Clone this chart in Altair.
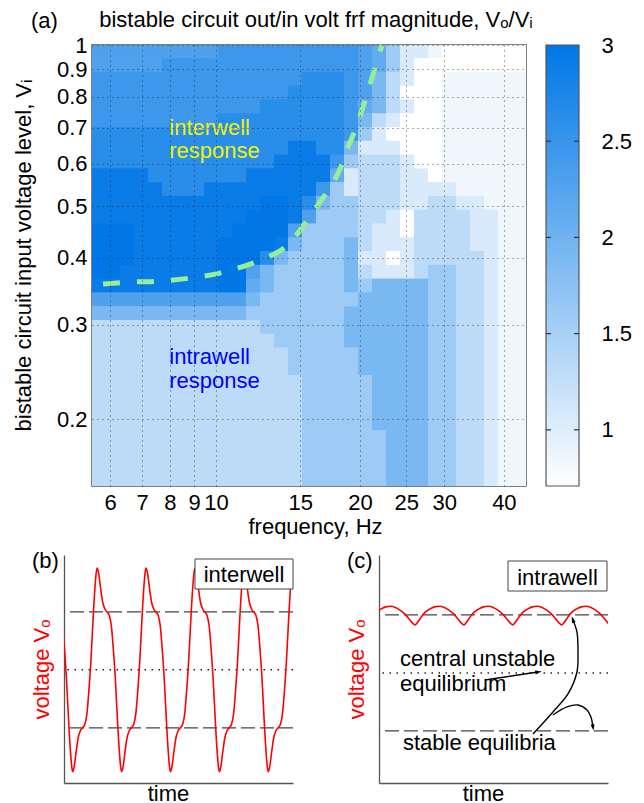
import altair as alt
import numpy as np
import pandas as pd

FONT = "Liberation Sans"
FS = 22

# ---------------- panel (a): frf magnitude map ----------------
FREQ_DOMAIN = [5.5, 44.5]
VOLT_DOMAIN = [0.15, 1.0]
FREQ_TICKS = [6, 7, 8, 9, 10, 15, 20, 25, 30, 40]
VOLT_TICKS = [0.2, 0.3, 0.4, 0.5, 0.6, 0.7, 0.8, 0.9, 1.0]
CBAR_TICKS = [1, 1.5, 2, 2.5, 3]
CBAR_INNER_TICKS = [1, 1.5, 2, 2.5]
CBAR_DOMAIN = [0.708, 3.0]
CBAR_COLORS = ["#ffffff", "#0077e6"]

# magnitude of each filled contour band, indexed by level code 0..b
LEVEL_VALUES = [0.71, 0.85, 1.06, 1.32, 1.59, 1.90, 2.12, 2.29, 2.45, 2.63, 2.91, 3.0]

# level code per cell; rows from 1 V (top) down to 0.15 V, columns 5.5 Hz -> 44.5 Hz (log spaced)
MAG_ROWS = [
    "7777777778888888888764221000000",
    "7777788888888888888764200000000",
    "8888888888888889998753200111111",
    "8888888888888899998753000111111",
    "8888888888889999998653200111111",
    "8888888889999999998532000111111",
    "9999999999999999998420000111111",
    "99999999999999aa995222000111111",
    "9999999999999aaaa84333200111111",
    "aaaa9999999aaaaaa62333220111111",
    "aaaaa999aaaaaaaa842333222211111",
    "aaaaaaaaaaaabba9544333223322111",
    "aaaaaaaaaaabbba7444332033332211",
    "bbbaaaaaaabbbb74444322033332211",
    "bbbaaaaaabbbba54445322233332211",
    "bbbaaaaaabbb9544445220233333211",
    "bbaaaaaaabb75444445322234433211",
    "aaaaaaaaabb65444445455554433211",
    "7777777777754444444555554433211",
    "5555555555544444445555554433211",
    "3333333333334444445555554433211",
    "3333333333333444445555554433211",
    "3333333333333344444555554433211",
    "3333333333333344444555554433211",
    "3333333333333334444455554433211",
    "3333333333333334444455554433211",
    "3333333333333334444455554433211",
    "3333333333333334444455554433211",
    "3333333333333334444445554433211",
    "3333333333333334444445554433211",
    "3333333333333334444445554433211",
    "3333333333333334444445554433211",
]

# interwell / intrawell boundary (green dashed)
BOUNDARY_FREQ = [5.80, 6.61, 7.64, 8.82, 10.19, 11.78, 12.97, 13.95, 14.99, 16.11,
                 17.15, 18.17, 18.89, 19.82, 20.60, 21.31, 21.83, 22.25]
BOUNDARY_VOLT = [0.3575, 0.3606, 0.3622, 0.3669, 0.3749, 0.3897, 0.4033, 0.4192, 0.4509, 0.4937,
                 0.5358, 0.5865, 0.6447, 0.7178, 0.7994, 0.8827, 0.9497, 1.0]

ANNOT_TEXT = ["interwell", "response", "intrawell", "response"]
ANNOT_FREQ = [7.98, 7.98, 7.98, 7.98]
ANNOT_VOLT = [0.679, 0.615, 0.2533, 0.229]
ANNOT_COLOR = ["#f2f200", "#f2f200", "#0000ff", "#0000ff"]

# ---------------- panels (b), (c): time traces ----------------
T_END = 4.684  # periods shown
B_V_DOMAIN = [-1.95, 1.98]
C_V_DOMAIN = [-1.897, 2.034]
STABLE_EQ = [1.0, -1.0]
UNSTABLE_EQ = [0.0]

# one period of the interwell orbit (phase 0 = trough)
B_CYCLE_PHASE = [0.00, 0.03, 0.07, 0.11, 0.16, 0.21, 0.25, 0.29, 0.33, 0.37, 0.41, 0.45, 0.48,
                 0.50, 0.53, 0.57, 0.61, 0.66, 0.71, 0.75, 0.79, 0.83, 0.87, 0.91, 0.95, 0.98]
B_CYCLE_V = [-1.755, -1.66, -1.40, -1.17, -1.04, -0.99, -0.93, -0.75, -0.35, 0.15, 0.80, 1.38, 1.68,
             1.755, 1.66, 1.40, 1.17, 1.04, 0.99, 0.93, 0.75, 0.35, -0.15, -0.80, -1.38, -1.68]
B_START_PHASE = 0.82

# one period of the intrawell orbit (phase 0 = trough)
C_CYCLE_PHASE = [0.00, 0.05, 0.10, 0.15, 0.20, 0.30, 0.40, 0.50, 0.60, 0.70, 0.80, 0.85, 0.90, 0.95]
C_CYCLE_V = [0.83, 0.87, 0.93, 0.99, 1.04, 1.10, 1.14, 1.15, 1.13, 1.08, 1.01, 0.96, 0.91, 0.86]
C_START_PHASE = 0.264

C_TEXT = ["central unstable", "equilibrium", "stable equilibria"]
C_TEXT_T = [0.43, 0.43, 0.49]
C_TEXT_V = [0.121, -0.31, -1.328]

ARROW_ID = [1, 1, 2, 2, 2, 2, 2, 2, 2, 3, 3, 3, 3, 3, 3]
ARROW_T = [2.168, 3.252, 3.149, 3.558, 3.865, 4.049, 4.070, 4.049, 3.967,
           3.558, 3.845, 4.070, 4.254, 4.335, 4.376]
ARROW_V = [-0.121, 0.017, -1.052, -0.672, -0.362, 0.017, 0.362, 0.707, 0.914,
           -0.724, -0.586, -0.552, -0.638, -0.759, -0.931]
HEAD_T = [3.252, 3.967, 4.376]
HEAD_V = [0.017, 0.914, -0.931]
HEAD_ANGLE = [81, 342, 169]

# ======================= build panel (a) =======================
nrows, ncols = len(MAG_ROWS), len(MAG_ROWS[0])
f_edges = np.geomspace(FREQ_DOMAIN[0], FREQ_DOMAIN[1], ncols + 1)
v_edges = np.geomspace(VOLT_DOMAIN[1], VOLT_DOMAIN[0], nrows + 1)
cell_rows = []
for r, row in enumerate(MAG_ROWS):
    for c, ch in enumerate(row):
        # upper edges nudged by 0.3 % so neighbouring cells overlap (no antialias seams)
        cell_rows.append({"f0": f_edges[c], "f1": min(f_edges[c + 1] * 1.003, FREQ_DOMAIN[1]),
                          "v0": v_edges[r + 1], "v1": min(v_edges[r] * 1.003, VOLT_DOMAIN[1]),
                          "mag": LEVEL_VALUES[int(ch, 16)]})
cells_df = pd.DataFrame(cell_rows)

cscale = alt.Scale(domain=CBAR_DOMAIN, range=CBAR_COLORS, interpolate="rgb")

grid_kw = dict(grid=True, gridDash=[1, 4], gridColor="#222", gridOpacity=0.75, gridWidth=1,
               ticks=False, domain=False, labelFontSize=FS, titleFontSize=FS,
               titleFontWeight="normal", labelColor="black", titleColor="black",
               labelFlush=False, labelOverlap=False, zindex=1)
x_a = alt.X("f0:Q", scale=alt.Scale(type="log", domain=FREQ_DOMAIN, nice=False),
            axis=alt.Axis(values=FREQ_TICKS, format="d", title="frequency, Hz",
                          labelPadding=6, titlePadding=3, titleX=223, **grid_kw))
y_a = alt.Y("v0:Q", scale=alt.Scale(type="log", domain=VOLT_DOMAIN, nice=False),
            axis=alt.Axis(values=VOLT_TICKS, format="~g",
                          title="bistable circuit input voltage level, V\u1d62",
                          labelPadding=5, titlePadding=21, titleY=210, **grid_kw))

cells_layer = alt.Chart(cells_df).mark_rect().encode(
    x=x_a, x2="f1:Q", y=y_a, y2="v1:Q",
    color=alt.Color("mag:Q", scale=cscale, legend=None),
)

bnd_df = pd.DataFrame({"f0": BOUNDARY_FREQ, "v0": BOUNDARY_VOLT})
boundary_layer = alt.Chart(bnd_df).mark_line(
    color="#96ee96", strokeWidth=5, strokeDash=[17, 17], interpolate="monotone"
).encode(x="f0:Q", y="v0:Q")

ann_df = pd.DataFrame({"f0": ANNOT_FREQ, "v0": ANNOT_VOLT, "text": ANNOT_TEXT, "col": ANNOT_COLOR})
annot_layer = alt.Chart(ann_df).mark_text(
    align="left", baseline="alphabetic", fontSize=FS, font=FONT
).encode(x="f0:Q", y="v0:Q", text="text:N", color=alt.Color("col:N", scale=None))

map_layers = alt.layer(cells_layer, boundary_layer, annot_layer)

# colour bar (same white -> blue ramp as the map), drawn with its own linear scale
cb_y = alt.Y("lo:Q", scale=alt.Scale(domain=CBAR_DOMAIN, nice=False, zero=False),
             axis=alt.Axis(orient="right", offset=53, values=CBAR_TICKS, format="~g",
                           domain=False, ticks=False, grid=False, labelPadding=22,
                           labelFontSize=FS, labelColor="black", title=None,
                           labelFlush=False, labelOverlap=False))
cbar = alt.Chart(pd.DataFrame({"lo": [CBAR_DOMAIN[0]], "hi": [CBAR_DOMAIN[1]]})).mark_rect(
    fill=alt.LinearGradient(gradient="linear", x1=0, x2=0, y1=1, y2=0,
                            stops=[alt.GradientStop(offset=0, color=CBAR_COLORS[0]),
                                   alt.GradientStop(offset=1, color=CBAR_COLORS[1])]),
    stroke="#555", strokeWidth=1.2
).encode(x=alt.value(454), x2=alt.value(487), y=cb_y, y2="hi:Q")
cb_ticks_df = pd.DataFrame({"lo": CBAR_INNER_TICKS})
cb_tick_l = alt.Chart(cb_ticks_df).mark_rule(color="#333", strokeWidth=1.2).encode(
    x=alt.value(454), x2=alt.value(459), y="lo:Q")
cb_tick_r = alt.Chart(cb_ticks_df).mark_rule(color="#333", strokeWidth=1.2).encode(
    x=alt.value(482), x2=alt.value(487), y="lo:Q")
cbar_layers = alt.layer(cbar, cb_tick_l, cb_tick_r)

panel_a = alt.layer(map_layers, cbar_layers).resolve_scale(y="independent").properties(
    width=434, height=441,
    title=alt.TitleParams("bistable circuit out/in volt frf magnitude, V\u2092/V\u1d62",
                          font=FONT, fontSize=FS, fontWeight="normal", color="black",
                          anchor="middle", frame="group", offset=2, dx=7),
    view=alt.ViewBackground(stroke="#555", strokeWidth=1.5),
)

# left strip of the top row: holds the "(a)" tag and an invisible layout anchor
sp_df = pd.DataFrame({"lab": ["(a)"]})
spacer = alt.layer(
    alt.Chart(sp_df).mark_text(align="left", baseline="alphabetic", fontSize=FS, font=FONT,
                               color="black").encode(text="lab:N", x=alt.value(-33), y=alt.value(-17)),
    alt.Chart(sp_df).mark_rule(opacity=0, strokeWidth=1).encode(
        x=alt.value(-54), x2=alt.value(-53), y=alt.value(0), y2=alt.value(500)),
).properties(width=28, height=441)

top_row = alt.hconcat(spacer, panel_a, spacing=0, bounds="flush")


# ======================= panels (b), (c) =======================
def tile(phases, values, start):
    rows = []
    for k in range(-1, 7):
        for p, v in zip(phases, values):
            t = k + p - start
            if -0.15 <= t <= T_END + 0.15:
                rows.append({"t": t, "v": v})
    return pd.DataFrame(rows).sort_values("t")


def trace_axes(vdom):
    ax_kw = dict(labels=False, ticks=False, grid=False, domainColor="#555", domainWidth=1.3,
                 titleFontSize=FS, titleFontWeight="normal")
    x = alt.X("t:Q", scale=alt.Scale(domain=[0, T_END], nice=False, zero=False),
              axis=alt.Axis(title="time", titleColor="black", titlePadding=0, titleX=104, **ax_kw))
    y = alt.Y("v:Q", scale=alt.Scale(domain=vdom, nice=False, zero=False),
              axis=alt.Axis(title="voltage V\u2092", titleColor="red", titlePadding=11, **ax_kw))
    return x, y


def trace_panel(df, vdom, box_label, box_x, box_y, text_x, text_y, panel_label, extra=(), anchor=False):
    x, y = trace_axes(vdom)
    dash = alt.Chart(pd.DataFrame({"v": STABLE_EQ})).mark_rule(
        color="#444", strokeWidth=1.3, strokeDash=[14, 5]).encode(y=y)
    dot = alt.Chart(pd.DataFrame({"v": UNSTABLE_EQ})).mark_rule(
        color="#222", strokeWidth=1.5, strokeDash=[1.5, 5.5]).encode(y=y)
    curve = alt.Chart(df).mark_line(
        color="red", strokeWidth=1.6, interpolate="monotone", clip=True).encode(x=x, y=y)
    lab_df = pd.DataFrame({"lab": [box_label]})
    box = alt.Chart(lab_df).mark_rect(fill="white", stroke="#444", strokeWidth=1).encode(
        x=alt.value(box_x[0]), x2=alt.value(box_x[1]), y=alt.value(box_y[0]), y2=alt.value(box_y[1]))
    box_text = alt.Chart(lab_df).mark_text(
        align="center", baseline="alphabetic", fontSize=FS, font=FONT, color="black"
    ).encode(text="lab:N", x=alt.value(text_x), y=alt.value(text_y))
    plab = alt.Chart(pd.DataFrame({"lab": [panel_label]})).mark_text(
        align="left", baseline="alphabetic", fontSize=FS, font=FONT, color="black"
    ).encode(text="lab:N", x=alt.value(-32), y=alt.value(12.5))
    layers = [dash, dot, curve] + [e(x, y) for e in extra] + [box, box_text, plab]
    if anchor:
        layers.append(alt.Chart(pd.DataFrame({"k": [0]})).mark_rule(opacity=0, strokeWidth=1).encode(
            x=alt.value(-54), x2=alt.value(-53), y=alt.value(-9), y2=alt.value(-8)))
    return alt.layer(*layers).properties(width=229, height=228)


b_df = tile(B_CYCLE_PHASE, B_CYCLE_V, B_START_PHASE)
c_df = tile(C_CYCLE_PHASE, C_CYCLE_V, C_START_PHASE)


def c_text(x, y):
    return alt.Chart(pd.DataFrame({"t": C_TEXT_T, "v": C_TEXT_V, "txt": C_TEXT})).mark_text(
        align="left", baseline="alphabetic", fontSize=FS, font=FONT, color="black"
    ).encode(x=x, y=y, text="txt:N")


def c_arrows(x, y):
    df = pd.DataFrame({"t": ARROW_T, "v": ARROW_V, "id": ARROW_ID, "k": range(len(ARROW_T))})
    return alt.Chart(df).mark_line(color="black", strokeWidth=1.4, interpolate="catmull-rom").encode(
        x=x, y=y, detail="id:N", order="k:Q")


def c_heads(x, y):
    df = pd.DataFrame({"t": HEAD_T, "v": HEAD_V, "a": HEAD_ANGLE})
    return alt.Chart(df).mark_point(
        shape="M0,-1L0.5,0.7L-0.5,0.7Z", filled=True, color="black", opacity=1, size=60
    ).encode(x=x, y=y, angle=alt.Angle("a:Q", scale=None))


panel_b = trace_panel(b_df, B_V_DOMAIN, "interwell", (131, 229), (4, 34), 180, 27, "(b)", anchor=True)
panel_c = trace_panel(c_df, C_V_DOMAIN, "intrawell", (129, 228), (6, 36), 178.5, 30, "(c)",
                      extra=(c_text, c_arrows, c_heads))

bottom_row = alt.hconcat(panel_b, panel_c, spacing=86, bounds="flush")

chart = alt.vconcat(
    top_row, bottom_row, spacing=1,
    padding={"left": 2, "top": 0, "right": 2, "bottom": 2}, background="white"
).configure(font=FONT).configure_view(stroke=None).configure_axis(
    labelFont=FONT, titleFont=FONT
).configure_title(font=FONT)

chart.save("out.html", embed_options={"renderer": "svg", "actions": False})
